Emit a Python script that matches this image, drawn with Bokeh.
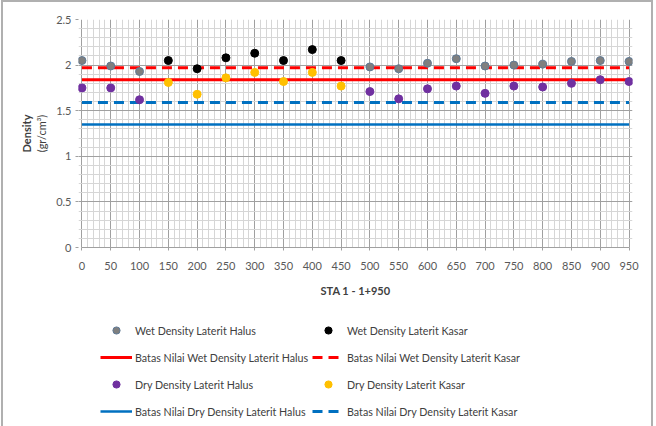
from bokeh.plotting import figure
from bokeh.models import Range1d, FixedTicker, Legend, LegendItem, LinearAxis
from bokeh.layouts import column
from bokeh.embed import file_html
from bokeh.resources import INLINE

# ---- data ----
sta_halus = [0, 50, 100, 500, 550, 600, 650, 700, 750, 800, 850, 900, 950]
wet_halus = [2.05, 1.99, 1.93, 1.98, 1.96, 2.02, 2.07, 1.99, 2.00, 2.01, 2.04, 2.05, 2.04]
dry_halus = [1.75, 1.75, 1.62, 1.71, 1.63, 1.74, 1.77, 1.69, 1.77, 1.76, 1.80, 1.84, 1.82]
sta_kasar = [150, 200, 250, 300, 350, 400, 450]
wet_kasar = [2.05, 1.96, 2.08, 2.13, 2.05, 2.17, 2.05]
dry_kasar = [1.81, 1.68, 1.86, 1.92, 1.82, 1.92, 1.77]
sta_span = [0, 950]
batas_wet_halus = [1.84, 1.84]
batas_wet_kasar = [1.97, 1.97]
batas_dry_halus = [1.35, 1.35]
batas_dry_kasar = [1.59, 1.59]
x_ticks = [0, 50, 100, 150, 200, 250, 300, 350, 400, 450, 500,
           550, 600, 650, 700, 750, 800, 850, 900, 950]
y_ticks = [0, 0.5, 1, 1.5, 2, 2.5]
y_tick_labels = {0: "0", 0.5: "0.5", 1: "1", 1.5: "1.5", 2: "2", 2.5: "2.5"}

FONT = "Lato"
TXT = "#595959"

x_minor = [v for v in range(0, 951, 10) if v % 50 != 0]
y_minor = [round(v * 0.1, 1) for v in range(0, 26) if v % 5 != 0]

p = figure(width=648, height=305, x_range=Range1d(-6, 956), y_range=Range1d(0, 2.5),
           output_backend="svg", toolbar_location=None,
           min_border_left=75, min_border_right=19, min_border_top=17, min_border_bottom=60)
p.outline_line_color = None
p.background_fill_color = "white"

xt = FixedTicker(ticks=x_ticks, minor_ticks=x_minor)
yt = FixedTicker(ticks=y_ticks, minor_ticks=y_minor)
p.xaxis.ticker = xt
p.yaxis.ticker = yt
p.xgrid.ticker = xt
p.ygrid.ticker = yt
for g in (p.xgrid, p.ygrid):
    g.grid_line_color = "#a0a0a0"
    g.grid_line_width = 1
    g.minor_grid_line_color = "#d6d6d6"
    g.minor_grid_line_width = 1
p.xaxis.bounds = (0, 950)
p.yaxis.major_label_overrides = y_tick_labels

for ax in (p.xaxis, p.yaxis):
    ax.major_label_text_font = FONT
    ax.major_label_text_font_size = "11px"
    ax.major_label_text_color = TXT
    ax.axis_line_color = "#a0a0a0"
    ax.major_tick_line_color = "#a0a0a0"
    ax.major_tick_out = 3
    ax.major_tick_in = 0
    ax.minor_tick_line_color = None
p.yaxis.axis_line_color = None
p.xaxis.major_label_standoff = 10
p.yaxis.major_label_standoff = 3

p.xaxis.axis_label = "STA 1 - 1+950"
p.xaxis.axis_label_text_font = FONT
p.xaxis.axis_label_text_font_style = "bold"
p.xaxis.axis_label_text_font_size = "11px"
p.xaxis.axis_label_text_color = "#404040"
p.xaxis.axis_label_standoff = 11

# y axis title: inner line normal, outer line bold
p.yaxis.axis_label = "(gr/cm³)"
p.yaxis.axis_label_text_font = FONT
p.yaxis.axis_label_text_font_style = "normal"
p.yaxis.axis_label_text_font_size = "11px"
p.yaxis.axis_label_text_color = "#404040"
p.yaxis.axis_label_standoff = 5

outer = LinearAxis(axis_label="Density", ticker=FixedTicker(ticks=[]),
                   axis_label_text_font=FONT, axis_label_text_font_style="bold",
                   axis_label_text_font_size="11px", axis_label_text_color="#404040",
                   axis_label_standoff=0, major_tick_out=0, major_tick_in=0,
                   major_label_text_font_size="0px", axis_line_color=None,
                   major_tick_line_color=None, minor_tick_line_color=None)
p.add_layout(outer, "left")

# limit lines
l_wh = p.line(sta_span, batas_wet_halus, line_color="#ff0000", line_width=3)
l_wk = p.line(sta_span, batas_wet_kasar, line_color="#ff0000", line_width=3, line_dash="10 6")
l_dh = p.line(sta_span, batas_dry_halus, line_color="#0070c0", line_width=2.5)
l_dk = p.line(sta_span, batas_dry_kasar, line_color="#0070c0", line_width=3, line_dash="10 6")

# points
GRAY = dict(fill_color="#7f7f7f", line_color="#5f7a96")
BLACK = dict(fill_color="#000000", line_color="#000000")
PURPLE = dict(fill_color="#7030a0", line_color="#7030a0")
YELLOW = dict(fill_color="#ffc000", line_color="#ffc000")
r_wh = p.scatter(sta_halus, wet_halus, size=8, **GRAY)
r_wk = p.scatter(sta_kasar, wet_kasar, size=8, **BLACK)
r_dh = p.scatter(sta_halus, dry_halus, size=8, **PURPLE)
r_dk = p.scatter(sta_kasar, dry_kasar, size=8, **YELLOW)

# ---- legend panel (separate figure below the chart; frame aligns with chart frame) ----
q = figure(width=648, height=119, x_range=Range1d(0, 1), y_range=Range1d(0, 1),
           output_backend="svg", toolbar_location=None,
           min_border_left=0, min_border_right=0, min_border_top=0, min_border_bottom=0)
q.axis.visible = False
q.grid.visible = False
q.outline_line_color = None

nan = float("nan")
e = ([nan], [nan])  # legend swatch renderers: nothing drawn in the panel itself
k_wh = q.scatter(*e, size=8, **GRAY)
k_wk = q.scatter(*e, size=8, **BLACK)
k_dh = q.scatter(*e, size=8, **PURPLE)
k_dk = q.scatter(*e, size=8, **YELLOW)
m_wh = q.line(*e, line_color="#ff0000", line_width=3)
m_wk = q.line(*e, line_color="#ff0000", line_width=3, line_dash="10 6")
m_dh = q.line(*e, line_color="#0070c0", line_width=2.5)
m_dk = q.line(*e, line_color="#0070c0", line_width=3, line_dash="10 6")


def make_legend(items, loc):
    return Legend(items=items, location=loc, orientation="vertical",
                  glyph_width=32, glyph_height=18, label_height=18, spacing=9,
                  label_standoff=3, padding=0, margin=0,
                  border_line_color=None, background_fill_alpha=0,
                  label_text_font=FONT, label_text_font_size="10.7px",
                  label_text_color="#404040")


left = make_legend([
    LegendItem(label="Wet Density Laterit Halus", renderers=[k_wh]),
    LegendItem(label="Batas Nilai Wet Density Laterit Halus", renderers=[m_wh]),
    LegendItem(label="Dry Density Laterit Halus", renderers=[k_dh]),
    LegendItem(label="Batas Nilai Dry Density Laterit Halus", renderers=[m_dh]),
], (22, 6))
right = make_legend([
    LegendItem(label="Wet Density Laterit Kasar", renderers=[k_wk]),
    LegendItem(label="Batas Nilai Wet Density Laterit Kasar", renderers=[m_wk]),
    LegendItem(label="Dry Density Laterit Kasar", renderers=[k_dk]),
    LegendItem(label="Batas Nilai Dry Density Laterit Kasar", renderers=[m_dk]),
], (234, 6))
q.add_layout(left, "center")
q.add_layout(right, "center")

page = column(p, q, spacing=0,
              styles={"border-left": "2px solid #b0b0b0", "border-right": "2px solid #b0b0b0",
                      "border-top": "2px solid #b0b0b0", "margin-left": "1px"})

open("out.html", "w").write(file_html(page, INLINE))
